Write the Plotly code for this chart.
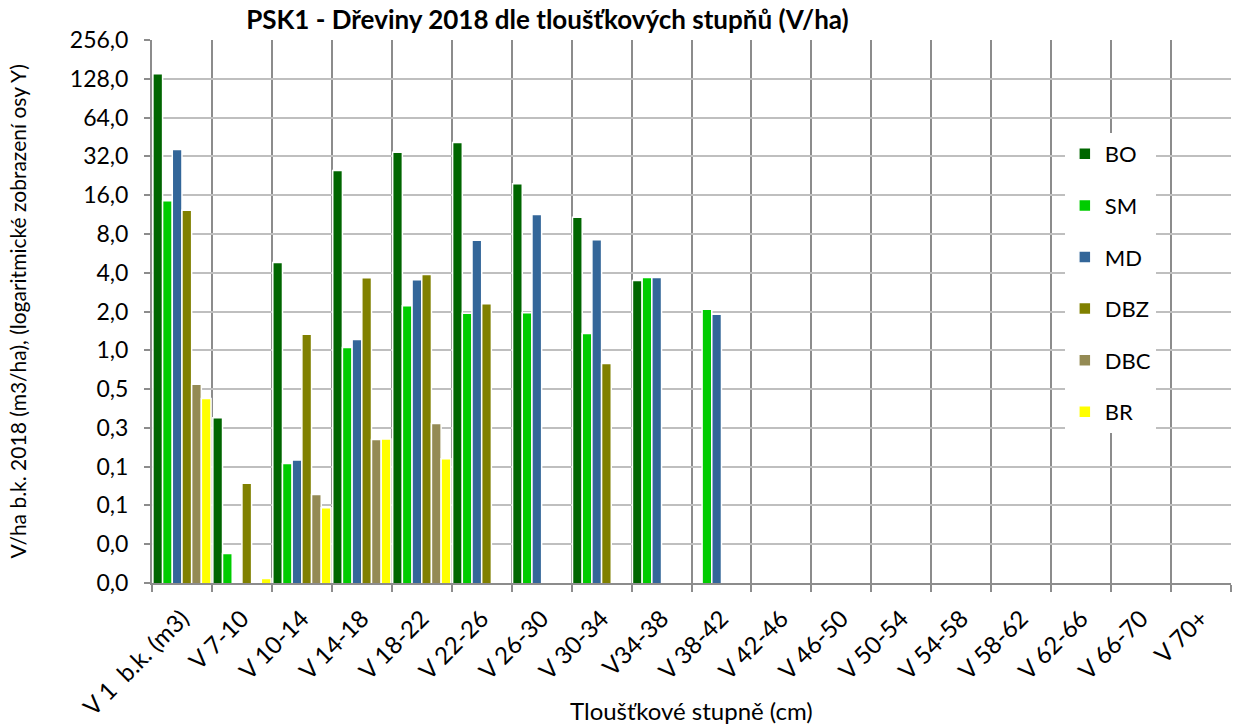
import plotly.graph_objects as go

categories = ["V 1  b.k. (m3)", "V 7-10", "V 10-14", "V 14-18", "V 18-22", "V 22-26",
              "V 26-30", "V 30-34", "V34-38", "V 38-42", "V 42-46", "V 46-50",
              "V 50-54", "V 54-58", "V 58-62", "V 62-66", "V 66-70", "V 70+"]

N = None
BO = [140, 0.30, 4.81, 24.9, 34.5, 41.0, 19.6, 10.8, 3.48, N, N, N, N, N, N, N, N, N]
SM = [14.5, 0.0265, 0.132, 1.05, 2.22, 1.94, 1.96, 1.35, 3.68, 2.08, N, N, N, N, N, N, N, N]
MD = [36.2, N, 0.141, 1.21, 3.53, 7.16, 11.3, 7.2, 3.68, 1.90, N, N, N, N, N, N, N, N]
DBZ = [12.2, 0.093, 1.33, 3.66, 3.88, 2.30, N, 0.79, N, N, N, N, N, N, N, N, N, N]
DBC = [0.544, N, 0.076, 0.203, 0.27, N, N, N, N, N, N, N, N, N, N, N, N, N]
BR = [0.423, 0.0169, 0.060, 0.205, 0.144, N, N, N, N, N, N, N, N, N, N, N, N, N]

series_names = ["BO", "SM", "MD", "DBZ", "DBC", "BR"]
series_values = [BO, SM, MD, DBZ, DBC, BR]
series_colors = ["#006600", "#00CC00", "#336699", "#808000", "#948A54", "#FFFF00"]

y_tick_vals = [0.015625, 0.03125, 0.0625, 0.125, 0.25, 0.5, 1, 2, 4, 8, 16, 32, 64, 128, 256]
y_tick_text = ["0,0", "0,0", "0,1", "0,1", "0,3", "0,5", "1,0", "2,0", "4,0", "8,0",
               "16,0", "32,0", "64,0", "128,0", "256,0"]

FONT = "Lato, Carlito, 'Open Sans', sans-serif"

fig = go.Figure()
for name, vals, col in zip(series_names, series_values, series_colors):
    fig.add_trace(go.Bar(
        x=categories, y=vals, name=name, legendgroup=name,
        marker=dict(color=col, line=dict(color="white", width=1.5)),
    ))

fig.update_layout(
    width=1235, height=726,
    margin=dict(l=152, r=4, t=40, b=143, autoexpand=False),
    paper_bgcolor="white", plot_bgcolor="white",
    font=dict(family=FONT, size=22, color="#000000"),
    barmode="group", bargap=0.03, bargroupgap=0,
    hovermode=False,
    title=dict(text="<b>PSK1 - Dřeviny 2018 dle tloušťkových stupňů (V/ha)</b>",
               x=0.4433, xref="container", xanchor="center",
               y=0.9725, yref="container", yanchor="middle",
               font=dict(family=FONT, size=26, color="#000000")),
    legend=dict(x=0.846, xanchor="left", y=0.8287, yanchor="top",
                bgcolor="white", borderwidth=0, traceorder="grouped",
                tracegroupgap=20, font=dict(family=FONT, size=22),
                itemwidth=30),
    showlegend=True,
    annotations=[
        dict(text="V/ha b.k. 2018 (m3/ha), (logaritmické zobrazení osy Y)",
             xref="paper", yref="paper", x=-0.1242, y=0.5, textangle=-90,
             xanchor="center", yanchor="middle", showarrow=False,
             font=dict(family=FONT, size=21, color="#000000")),
        dict(text="Tloušťkové stupně (cm)",
             xref="paper", yref="paper", x=0.5, y=-0.2357,
             xanchor="center", yanchor="middle", showarrow=False,
             font=dict(family=FONT, size=24, color="#000000")),
    ],
)

fig.update_xaxes(
    type="category", tickson="boundaries", automargin=False,
    showgrid=True, gridcolor="#8C8C8C", gridwidth=2,
    showline=True, linecolor="#8C8C8C", linewidth=2,
    ticks="outside", ticklen=7, tickcolor="#8C8C8C", tickwidth=2,
    tickangle=-45, ticklabelstandoff=10, tickfont=dict(family=FONT, size=24),
)

fig.update_yaxes(
    type="log", range=[-1.80618, 2.40824], automargin=False,
    tickvals=y_tick_vals, ticktext=y_tick_text,
    showgrid=True, gridcolor="#BFBFBF", gridwidth=2,
    showline=True, linecolor="#8C8C8C", linewidth=2,
    ticks="outside", ticklen=6, tickcolor="#8C8C8C", tickwidth=2,
    ticklabelstandoff=11, tickfont=dict(family=FONT, size=23),
    zeroline=False,
)

# remove the browser's default 8px body margin so the figure fills the window exactly
fig.write_html("out.html", config={"displayModeBar": False},
               post_script="document.body.style.margin='0';")
